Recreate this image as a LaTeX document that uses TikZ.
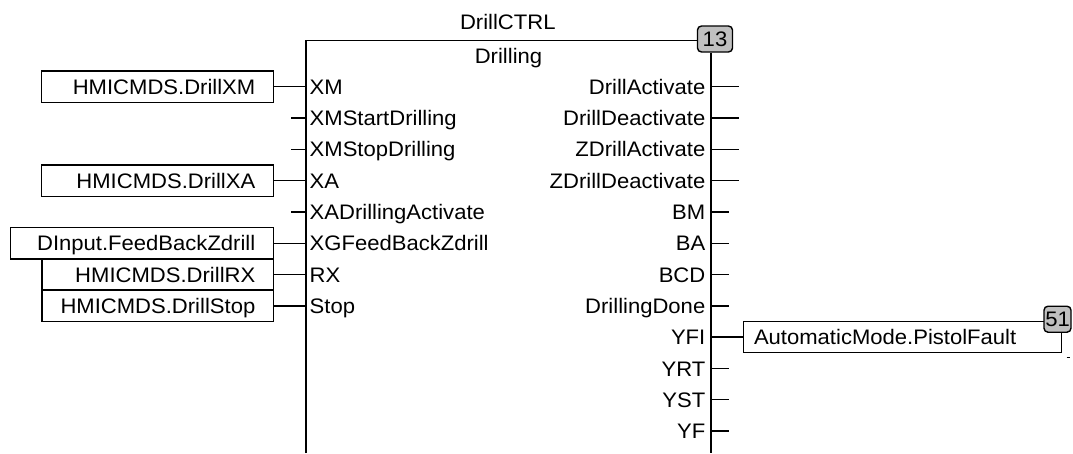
\documentclass[tikz,border=0pt]{standalone}
\usepackage{fontspec}
\setmainfont[FakeStretch=1.05]{Liberation Sans}
\definecolor{badgegray}{RGB}{192,192,192}
\begin{document}
\begin{tikzpicture}[x=1pt,y=-1pt, line width=1.4pt,
  every node/.style={font=\fontsize{21}{25}\selectfont, inner sep=0pt},
  varbox/.style={draw, minimum height=31.3pt, inner xsep=18pt, align=right, text height=15pt, text depth=0pt, anchor=east},
  outbox/.style={draw, minimum height=31pt, inner xsep=10.6pt, align=left, text height=15pt, text depth=0pt, anchor=west},
  badge/.style={draw, fill=badgegray, rounded corners=4pt, minimum height=26pt, inner sep=0pt, text height=15pt, text depth=0pt},
  pinlab/.style={anchor=base west},
  poutlab/.style={anchor=base east},
]
\useasboundingbox (0,0) rectangle (1073,453);

% block frame
\coordinate (tl) at (306,40.7);
\coordinate (bl) at (306,453);
\coordinate (br) at (711,453);
\node[badge, minimum width=35pt] (b13) at (715,39) {13};
\draw (bl) -- (tl) -- (b13.west |- tl);
\draw (b13.south -| br) -- (br);
\node[anchor=base] (fbname) at (507.8,29.3) {DrillCTRL};
\node[anchor=base] (fbtype) at (508.5,63.5) {Drilling};

% input pins
\foreach \lab [count=\i from 0] in {XM,XMStartDrilling,XMStopDrilling,XA,XADrillingActivate,XGFeedBackZdrill,RX,Stop}{
  \node[pinlab] (inl\i) at (309,{94.3+31.3*\i}) {\lab};
  \coordinate (inp\i) at (306,{86.7+31.3*\i});
}
% unconnected input stubs
\foreach \i in {1,2,4}{
  \coordinate (ins\i) at (291,{86.7+31.3*\i});
  \draw (ins\i) -- (inp\i);
}

% input variables
\node[varbox, text width=196pt] (v0) at (274,86.7) {HMICMDS.DrillXM};
\node[varbox, text width=196pt] (v3) at (274,{86.7+31.3*3}) {HMICMDS.DrillXA};
\node[varbox, text width=227pt] (v5) at (274,{86.7+31.3*5}) {DInput.FeedBackZdrill};
\node[varbox, text width=195.3pt] (v6) at (274,{86.7+31.3*6}) {HMICMDS.DrillRX};
\node[varbox, text width=195.3pt] (v7) at (274,{86.7+31.3*7}) {HMICMDS.DrillStop};
\foreach \i in {0,3,5,6,7}{
  \draw (v\i.east) -- (inp\i);
}

% output pins
\foreach \lab [count=\i from 0] in {DrillActivate,DrillDeactivate,ZDrillActivate,ZDrillDeactivate,BM,BA,BCD,DrillingDone,YFI,YRT,YST,YF}{
  \node[poutlab] (outl\i) at (706,{94.3+31.3*\i}) {\lab};
  \coordinate (outp\i) at (711,{86.7+31.3*\i});
}
\foreach \i in {0,1,2,3}{
  \coordinate (outs\i) at (739,{86.7+31.3*\i});
  \draw (outp\i) -- (outs\i);
}
\foreach \i in {4,5,6,7,9,10,11}{
  \coordinate (outs\i) at (729,{86.7+31.3*\i});
  \draw (outp\i) -- (outs\i);
}

% output variable
\node[outbox, text width=297pt] (ov) at (742.7,337.2) {AutomaticMode.PistolFault};
\draw (outp8) -- (ov.west |- outp8);
\node[badge, minimum width=27pt] (b51) at (1057.5,319.2) {51};
\coordinate (d1) at (1066.5,357.5);
\coordinate (d2) at (1069.5,357.5);
\draw[line width=1pt] (d1) -- (d2);
\end{tikzpicture}
\end{document}
